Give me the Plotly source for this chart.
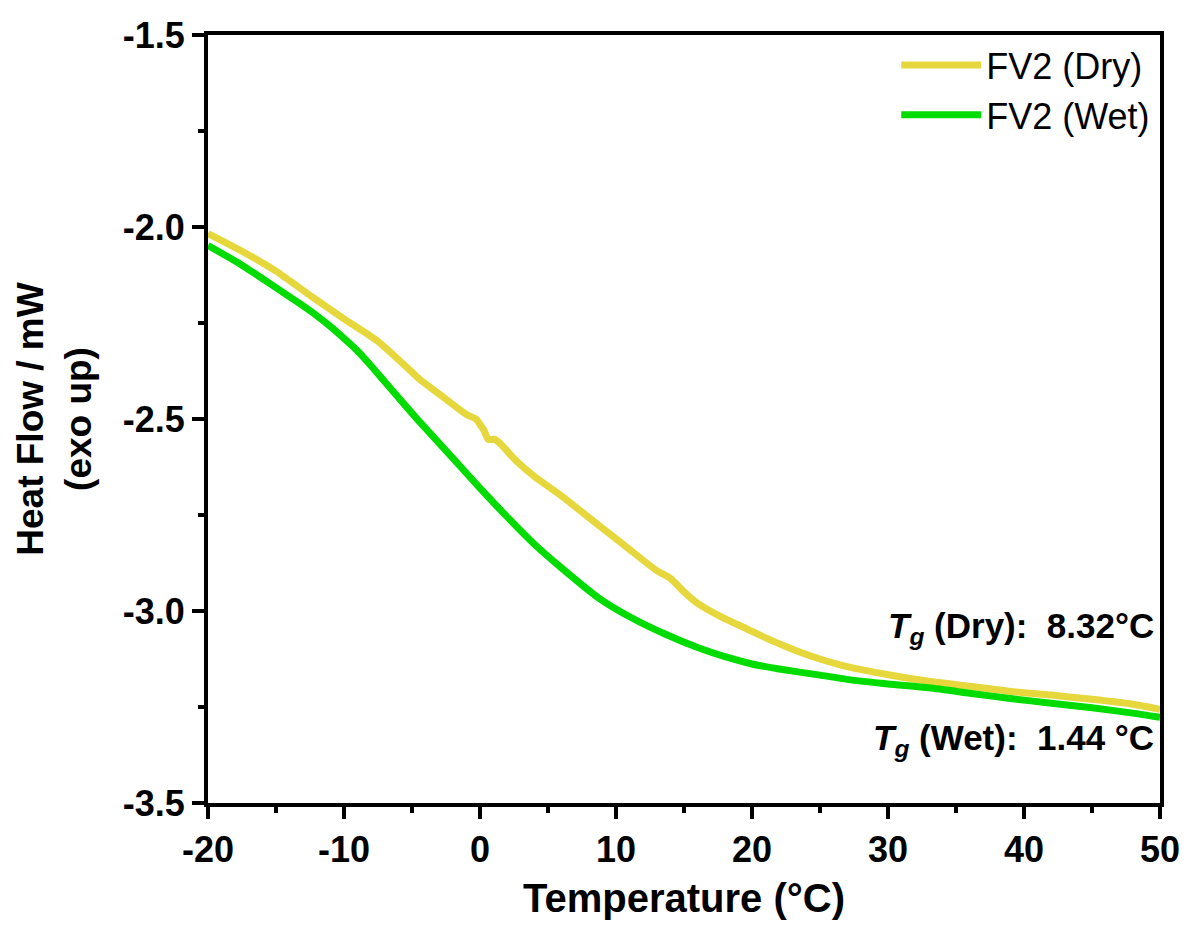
import plotly.graph_objects as go

# DSC heating traces for FV2, dry vs. wet
temp_dry = [-20, -17.5, -15, -12.5, -10, -7.5, -5, -4.5, -3, -1, -0.3, 0, 0.3, 0.6, 1.1, 1.6,
            2.6, 4, 5.9, 8.7, 11, 13, 14, 15, 16, 18, 19.65, 21, 23.3, 25, 27, 30, 33, 36,
            39.2, 42, 45, 48, 50]
flow_dry = [-2.017, -2.063, -2.115, -2.178, -2.239, -2.298, -2.378, -2.395, -2.435, -2.488,
            -2.500, -2.514, -2.530, -2.553, -2.553, -2.568, -2.607, -2.650, -2.698, -2.776,
            -2.840, -2.895, -2.915, -2.950, -2.980, -3.020, -3.047, -3.070, -3.104, -3.125,
            -3.145, -3.166, -3.183, -3.196, -3.210, -3.219, -3.230, -3.243, -3.256]

temp_wet = [-20, -17.7, -15, -13.27, -12, -11, -10, -9, -8, -7, -6, -4.5, -2, 0, 2, 4, 6,
            8.68, 11, 13.6, 16, 18.4, 20, 22, 25, 27, 30, 33, 36, 39, 42, 45, 48, 50]
flow_wet = [-2.048, -2.095, -2.158, -2.199, -2.231, -2.259, -2.290, -2.323, -2.362, -2.403,
            -2.444, -2.505, -2.602, -2.680, -2.755, -2.826, -2.888, -2.965, -3.015, -3.060,
            -3.095, -3.123, -3.138, -3.151, -3.167, -3.178, -3.190, -3.200, -3.214, -3.228,
            -3.240, -3.252, -3.266, -3.277]

series_names = ["FV2 (Dry)", "FV2 (Wet)"]
series_colors = ["#E6D83C", "#00DC00"]

x_tickvals = [-20, -10, 0, 10, 20, 30, 40, 50]
x_ticktext = ["-20", "-10", "0", "10", "20", "30", "40", "50"]
y_tickvals = [-3.5, -3.0, -2.5, -2.0, -1.5]
y_ticktext = ["-3.5", "-3.0", "-2.5", "-2.0", "-1.5"]

tg_labels = ["<i>T</i><sub><i>g</i></sub> (Dry):  8.32°C",
             "<i>T</i><sub><i>g</i></sub> (Wet):  1.44 °C"]
tg_label_y = [-3.045, -3.337]

FONT = "Arial, Liberation Sans, sans-serif"

fig = go.Figure()
for xs, ys, name, color in zip([temp_dry, temp_wet], [flow_dry, flow_wet],
                               series_names, series_colors):
    fig.add_trace(go.Scatter(x=xs, y=ys, mode="lines", name=name,
                             line=dict(color=color, width=7, shape="spline",
                                       smoothing=0.6)))

for text, y in zip(tg_labels, tg_label_y):
    fig.add_annotation(x=49.7, y=y, xref="x", yref="y", text=text, showarrow=False,
                       xanchor="right", yanchor="middle",
                       font=dict(family=FONT, size=35, color="black", weight="bold"))

axis_common = dict(showline=True, linewidth=4, linecolor="black", mirror=True,
                   showgrid=False, zeroline=False, ticks="outside", ticklen=12,
                   tickwidth=4, tickcolor="black",
                   tickfont=dict(family=FONT, size=36, color="black", weight="bold"))

fig.update_xaxes(range=[-20, 50], tickmode="array", tickvals=x_tickvals,
                 ticktext=x_ticktext,
                 minor=dict(dtick=5, tick0=0, ticks="outside", ticklen=6, tickwidth=4,
                            tickcolor="black"),
                 title=dict(text="Temperature (°C)", standoff=16,
                            font=dict(family=FONT, size=40, color="black", weight="bold")),
                 **axis_common)
fig.update_yaxes(range=[-3.5, -1.5], tickmode="array", tickvals=y_tickvals,
                 ticktext=y_ticktext,
                 minor=dict(dtick=0.25, tick0=-1.5, ticks="outside", ticklen=6, tickwidth=4,
                            tickcolor="black"),
                 title=dict(text="Heat Flow / mW<br>(exo up)", standoff=21,
                            font=dict(family=FONT, size=37, color="black", weight="bold")),
                 **axis_common)

fig.update_layout(
    width=1192, height=926,
    margin=dict(l=208, r=27, t=35, b=118),
    paper_bgcolor="white", plot_bgcolor="white",
    font=dict(family=FONT, color="black"),
    legend=dict(x=0.995, y=1.0, xanchor="right", yanchor="top",
                bgcolor="rgba(0,0,0,0)", itemwidth=80, tracegroupgap=0,
                font=dict(family=FONT, size=36, color="black")),
)

fig.write_html("out.html")
